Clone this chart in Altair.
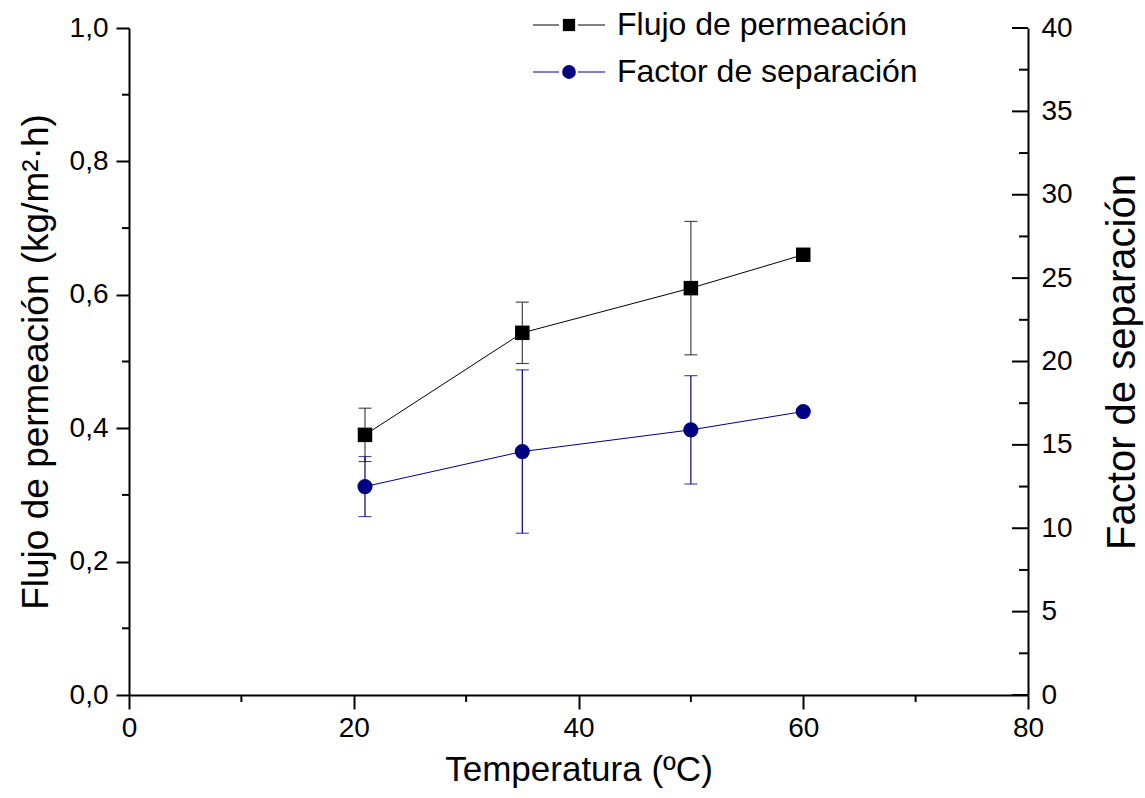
import altair as alt
import pandas as pd

# Measured data
temperatura = [21, 35, 50, 60]
flujo = [0.39, 0.543, 0.61, 0.66]
flujo_err = [0.04, 0.046, 0.10, 0.0]
factor = [12.5, 14.6, 15.9, 17.0]
factor_err = [1.8, 4.9, 3.25, 0.0]

# Axis ticks
x_ticks = [0, 20, 40, 60, 80]
x_minor = [10, 30, 50, 70]
left_ticks = [0.0, 0.2, 0.4, 0.6, 0.8, 1.0]
left_minor = [0.1, 0.3, 0.5, 0.7, 0.9]
right_ticks = [0, 5, 10, 15, 20, 25, 30, 35, 40]
right_minor = [2.5, 7.5, 12.5, 17.5, 22.5, 27.5, 32.5, 37.5]

series_names = ["Flujo de permeación", "Factor de separación"]

W, H = 899, 667
FONT = "Liberation Sans"
NAVY = "#000080"

df = pd.DataFrame({
    "T": temperatura,
    "flujo": flujo,
    "flujo_lo": [v - e for v, e in zip(flujo, flujo_err)],
    "flujo_hi": [v + e for v, e in zip(flujo, flujo_err)],
    "flujo_err": flujo_err,
    "factor": factor,
    "factor_lo": [v - e for v, e in zip(factor, factor_err)],
    "factor_hi": [v + e for v, e in zip(factor, factor_err)],
    "factor_err": factor_err,
})

x_scale = alt.Scale(domain=[0, 80], nice=False, zero=False)
x_axis = alt.Axis(values=x_ticks, title="Temperatura (ºC)", tickSize=14,
                  labelPadding=5, labelFlush=False, titlePadding=10,
                  titleFontSize=35, format="d")

left_scale = alt.Scale(domain=[0, 1], nice=False)
left_axis = alt.Axis(values=left_ticks, orient="left",
                     title="Flujo de permeación (kg/m²·h)", tickSize=13,
                     labelPadding=8, labelFlush=False, titlePadding=14,
                     titleFontSize=37,
                     labelExpr="replace(format(datum.value, '.1f'), '.', ',')")

right_scale = alt.Scale(domain=[0, 40], nice=False)
right_axis = alt.Axis(values=right_ticks, orient="right", ticks=False,
                      title="Factor de separación", titleAngle=270,
                      titleBaseline="top", titleFontSize=40, labelFlush=False,
                      labelPadding=13, titlePadding=30)


def xf(field="T"):
    return alt.X(f"{field}:Q", scale=x_scale, axis=x_axis)


def yl(field):
    return alt.Y(f"{field}:Q", scale=left_scale, axis=left_axis)


def yr(field):
    return alt.Y(f"{field}:Q", scale=right_scale, axis=right_axis)


base = alt.Chart(df)

# --- Flujo de permeación (left axis) ---
flujo_line = base.mark_line(color="black", strokeWidth=1).encode(x=xf(), y=yl("flujo"))
flujo_bar = base.transform_filter("datum.flujo_err > 0").mark_rule(
    color="#444444", strokeWidth=1.2).encode(x=xf(), y=yl("flujo_lo"), y2="flujo_hi:Q")
flujo_cap_lo = base.transform_filter("datum.flujo_err > 0").mark_tick(
    color="black", orient="horizontal", size=13, thickness=1.2).encode(x=xf(), y=yl("flujo_lo"))
flujo_cap_hi = base.transform_filter("datum.flujo_err > 0").mark_tick(
    color="black", orient="horizontal", size=13, thickness=1.2).encode(x=xf(), y=yl("flujo_hi"))
flujo_pts = base.mark_point(shape="square", filled=True, color="black", size=210,
                            opacity=1).encode(x=xf(), y=yl("flujo"))

left_minor_ticks = alt.Chart(pd.DataFrame({"v": left_minor})).mark_rule(
    color="black", strokeWidth=2).encode(x=alt.value(-7), x2=alt.value(0), y=yl("v"))
x_minor_ticks = alt.Chart(pd.DataFrame({"T": x_minor})).mark_rule(
    color="black", strokeWidth=2).encode(x=xf(), y=alt.value(H), y2=alt.value(H + 7))

flujo_layer = alt.layer(flujo_line, flujo_bar, flujo_cap_lo, flujo_cap_hi, flujo_pts,
                        left_minor_ticks, x_minor_ticks)

# --- Factor de separación (right axis) ---
factor_line = base.mark_line(color=NAVY, strokeWidth=1).encode(x=xf(), y=yr("factor"))
factor_bar = base.transform_filter("datum.factor_err > 0").mark_rule(
    color=NAVY, strokeWidth=1.2).encode(x=xf(), y=yr("factor_lo"), y2="factor_hi:Q")
factor_cap_lo = base.transform_filter("datum.factor_err > 0").mark_tick(
    color=NAVY, orient="horizontal", size=13, thickness=1.2).encode(x=xf(), y=yr("factor_lo"))
factor_cap_hi = base.transform_filter("datum.factor_err > 0").mark_tick(
    color=NAVY, orient="horizontal", size=13, thickness=1.2).encode(x=xf(), y=yr("factor_hi"))
factor_pts = base.mark_point(shape="circle", filled=True, color=NAVY, size=230,
                             opacity=1).encode(x=xf(), y=yr("factor"))

right_major_ticks = alt.Chart(pd.DataFrame({"v": right_ticks})).mark_rule(
    color="black", strokeWidth=2).encode(x=alt.value(W - 16), x2=alt.value(W), y=yr("v"))
right_minor_ticks = alt.Chart(pd.DataFrame({"v": right_minor})).mark_rule(
    color="black", strokeWidth=2).encode(x=alt.value(W - 9), x2=alt.value(W), y=yr("v"))

factor_layer = alt.layer(factor_line, factor_bar, factor_cap_lo, factor_cap_hi, factor_pts,
                         right_major_ticks, right_minor_ticks)

# --- Legend drawn as marks above the plot ---
one = pd.DataFrame({"k": [0]})
legend_rows = [(-3, "black", "square", series_names[0]), (44, NAVY, "circle", series_names[1])]
legend_layers = []
for ly, col, shp, name in legend_rows:
    legend_layers.append(alt.Chart(one).mark_rule(color=col, strokeWidth=1).encode(
        x=alt.value(404), x2=alt.value(430), y=alt.value(ly)))
    legend_layers.append(alt.Chart(one).mark_rule(color=col, strokeWidth=1).encode(
        x=alt.value(449), x2=alt.value(476), y=alt.value(ly)))
    legend_layers.append(alt.Chart(one).mark_point(
        shape=shp, filled=True, color=col, opacity=1,
        size=150 if shp == "square" else 190).encode(x=alt.value(440), y=alt.value(ly)))
    legend_layers.append(alt.Chart(one).mark_text(
        text=name, font=FONT, fontSize=32, align="left", baseline="middle",
        color="black").encode(x=alt.value(488), y=alt.value(ly)))

chart = alt.layer(flujo_layer, factor_layer, *legend_layers).resolve_scale(
    y="independent"
).properties(
    width=W, height=H,
    padding={"left": 129, "top": 28, "right": 117, "bottom": 103},
    autosize=alt.AutoSizeParams(type="none"),
    background="white",
).configure_view(stroke=None).configure_axis(
    labelFont=FONT, titleFont=FONT, labelFontSize=28,
    labelColor="black", titleColor="black", titleFontWeight="normal",
    domainColor="black", domainWidth=2, tickColor="black", tickWidth=2,
    grid=False,
)

chart.save("out.html", embed_options={"renderer": "svg", "actions": False})
